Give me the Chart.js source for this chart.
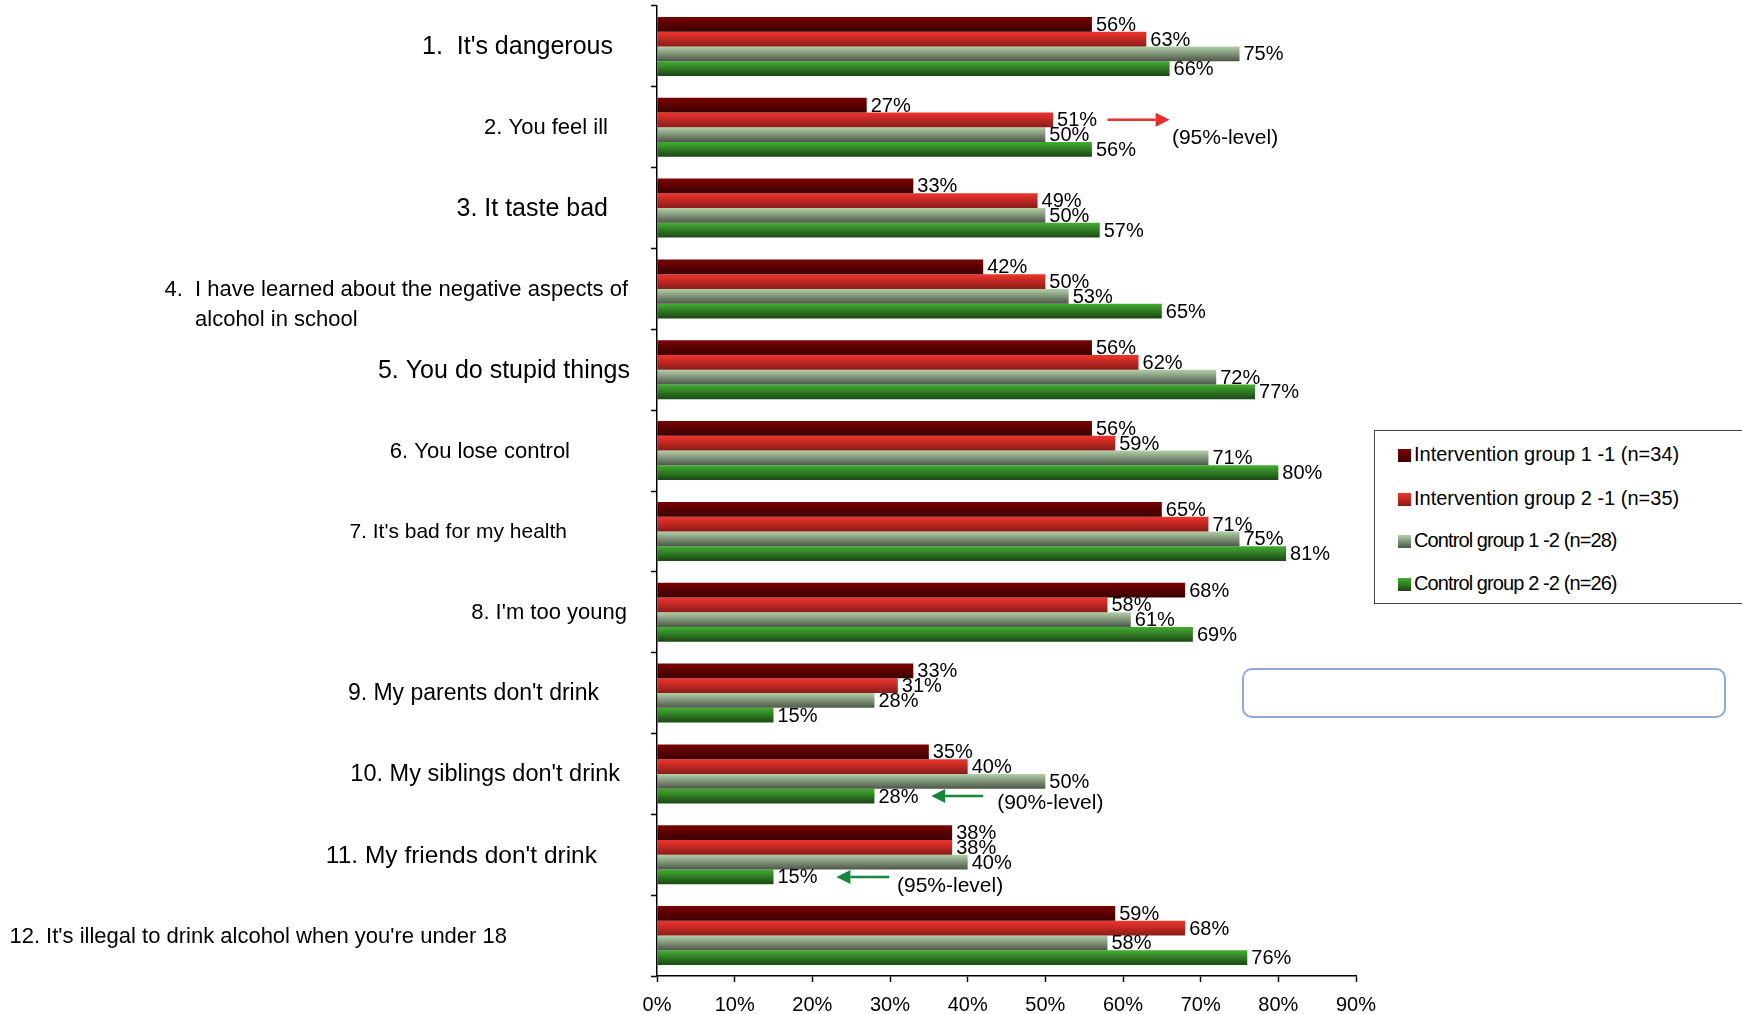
<!DOCTYPE html>
<html>
<head>
<meta charset="utf-8">
<title>Reasons not to drink alcohol</title>
<script src="https://cdn.jsdelivr.net/npm/chart.js@4.4.1/dist/chart.umd.min.js"></script>
<style>
  body { margin: 0; background: #fff; font-family: "Liberation Sans", Arial, sans-serif; }
  #wrap { position: relative; width: 1742px; height: 1014px; overflow: hidden; }
  .legend { position: absolute; left: 1374px; top: 430px; width: 400px; height: 174px;
    border: 1px solid #444; box-sizing: border-box; background: #fff; }
  .legend div { position: absolute; left: 23px; font-size: 20px; color: #000; white-space: nowrap;
    line-height: 20px; }
  .legend span { display: inline-block; width: 13px; height: 13px; margin-right: 3px; vertical-align: -1px; }
  .legend .narrow { letter-spacing: -0.9px; }
  .note { position: absolute; left: 1242px; top: 668px; width: 484px; height: 50px;
    border: 2px solid #8eaadb; border-radius: 10px; box-sizing: border-box; }
</style>
</head>
<body>
<div id="wrap">
  <canvas id="reasonsChart"></canvas>
  <div class="legend" id="legend"></div>
  <div class="note"></div>
</div>
<script>
// categories (y axis)
const reasons = [
  "1.  It's dangerous",
  "2. You feel ill",
  "3. It taste bad",
  ["4.  ", "I have learned about the negative aspects of", "alcohol in school"],
  "5. You do stupid things",
  "6. You lose control",
  "7. It's bad for my health",
  "8. I'm too young",
  "9. My parents don't drink",
  "10. My siblings don't drink",
  "11. My friends don't drink",
  "12. It's illegal to drink alcohol when you're under 18"
];

// series, percent
const intervention1 = [56, 27, 33, 42, 56, 56, 65, 68, 33, 35, 38, 59];
const intervention2 = [63, 51, 49, 50, 62, 59, 71, 58, 31, 40, 38, 68];
const control1 = [75, 50, 50, 53, 72, 71, 75, 61, 28, 50, 40, 58];
const control2 = [66, 56, 57, 65, 77, 80, 81, 69, 15, 28, 15, 76];

const seriesNames = [
  "Intervention group 1 -1 (n=34)",
  "Intervention group 2 -1 (n=35)",
  "Control group 1 -2 (n=28)",
  "Control group 2 -2 (n=26)"
];

// x axis
const xTicksMax = 90;
const xStep = 10;

// significance notes
const notes = [
  { cat: 1, ds: 1, from: 58, to: 66, text: "(95%-level)", color: "#e8302a", textAt: 66.3, dy: 1.25 },
  { cat: 9, ds: 3, from: 42, to: 35.3, text: "(90%-level)", color: "#15873a", textAt: 43.8, dy: 0.5 },
  { cat: 10, ds: 3, from: 29.9, to: 23.1, text: "(95%-level)", color: "#15873a", textAt: 30.9, dy: 0.6 }
];

// y label layout as in the original: right edge (px) and font size
const labelEnds = [613, 608, 608, 628, 630, 570, 567, 627, 599, 620, 597, 507];
const labelSizes = [25, 22, 25, 22, 25, 22, 21, 22, 23, 23.5, 24.5, 22];

const barColors = [
  ["#7a0202", "#3a0000"],
  ["#f0342c", "#8a1c18"],
  ["#b2d0a8", "#4c5648"],
  ["#42ae30", "#1c4616"]
];

const catPct = 0.73;

function barGradient(i) {
  return function (context) {
    const chart = context.chart;
    const y = chart.scales.y;
    if (!y || context.type !== "data" || !chart.chartArea) return barColors[i][0];
    const band = y.height / reasons.length;
    const h = (band * catPct) / 4;
    const center = y.getPixelForValue(context.dataIndex);
    const top = center - 2 * h + i * h;
    const g = chart.ctx.createLinearGradient(0, top, 0, top + h);
    g.addColorStop(0, barColors[i][0]);
    g.addColorStop(1, barColors[i][1]);
    return g;
  };
}

const family = '"Liberation Sans", Arial, sans-serif';

const drawExtras = {
  id: "drawExtras",
  afterDatasetsDraw(chart) {
    const ctx = chart.ctx;
    const y = chart.scales.y;
    const x = chart.scales.x;
    ctx.save();
    ctx.fillStyle = "#000";

    // value labels
    ctx.font = "20px " + family;
    ctx.textAlign = "left";
    ctx.textBaseline = "middle";
    chart.data.datasets.forEach(function (ds, di) {
      chart.getDatasetMeta(di).data.forEach(function (bar, i) {
        ctx.fillText(ds.data[i] + "%", bar.x + 4, bar.y + 1);
      });
    });

    // category labels
    reasons.forEach(function (lab, i) {
      ctx.font = labelSizes[i] + "px " + family;
      const cy = y.getPixelForValue(i);
      const right = labelEnds[i];
      if (Array.isArray(lab)) {
        const w = ctx.measureText(lab[0] + lab[1]).width;
        const start = right - w;
        const indent = ctx.measureText(lab[0]).width;
        ctx.textAlign = "left";
        ctx.fillText(lab[0] + lab[1], start, cy + 1);
        ctx.fillText(lab[2], start + indent, cy + 31);
      } else {
        ctx.textAlign = "right";
        ctx.fillText(lab, right, cy + 1);
      }
    });

    // significance arrows
    const band = y.height / reasons.length;
    const h = (band * catPct) / 4;
    ctx.font = "21px " + family;
    ctx.textAlign = "left";
    notes.forEach(function (n) {
      const cy = y.getPixelForValue(n.cat) - 2 * h + (n.ds + 0.5) * h;
      const x0 = x.getPixelForValue(n.from);
      const x1 = x.getPixelForValue(n.to);
      const dir = x1 > x0 ? 1 : -1;
      const head = 14;
      ctx.strokeStyle = n.color;
      ctx.fillStyle = n.color;
      ctx.lineWidth = 2.5;
      ctx.beginPath();
      ctx.moveTo(x0, cy);
      ctx.lineTo(x1 - dir * head, cy);
      ctx.stroke();
      ctx.beginPath();
      ctx.moveTo(x1, cy);
      ctx.lineTo(x1 - dir * head, cy - 7);
      ctx.lineTo(x1 - dir * head, cy + 7);
      ctx.closePath();
      ctx.fill();
      ctx.fillStyle = "#000";
      ctx.fillText(n.text, x.getPixelForValue(n.textAt), cy + n.dy * h);
    });
    ctx.restore();
  }
};

const seriesData = [intervention1, intervention2, control1, control2];

const reasonsChart = new Chart(document.getElementById("reasonsChart"), {
  type: "bar",
  data: {
    labels: reasons,
    datasets: seriesData.map(function (d, i) {
      return {
        label: seriesNames[i],
        data: d,
        backgroundColor: barGradient(i),
        borderWidth: 0,
        categoryPercentage: catPct,
        barPercentage: 1
      };
    })
  },
  options: {
    indexAxis: "y",
    responsive: true,
    maintainAspectRatio: false,
    animation: false,
    layout: { padding: { top: 6, right: 386, bottom: 0, left: 0 } },
    scales: {
      x: {
        min: 0,
        max: xTicksMax,
        afterFit: function (s) { s.height = 38; },
        border: { color: "#000", width: 1.5 },
        grid: { drawOnChartArea: false, color: "#000", tickLength: 6, tickWidth: 1.5 },
        ticks: {
          stepSize: xStep,
          padding: 11,
          color: "#000",
          font: { family: family, size: 20 },
          callback: function (v) { return v + "%"; }
        }
      },
      y: {
        afterFit: function (s) { s.width = 657; },
        border: { color: "#000", width: 1.5 },
        grid: { drawOnChartArea: false, color: "#000", tickLength: 6, tickWidth: 1.5, offset: true },
        ticks: { display: false }
      }
    },
    plugins: {
      legend: { display: false },
      tooltip: { enabled: false }
    }
  },
  plugins: [drawExtras]
});

// legend box
const legendEl = document.getElementById("legend");
const legendTops = [13, 57, 99, 142];
seriesNames.forEach(function (name, i) {
  const item = document.createElement("div");
  item.style.top = legendTops[i] + "px";
  if (i > 1) item.className = "narrow";
  const sw = document.createElement("span");
  sw.style.background = "linear-gradient(" + barColors[i][0] + "," + barColors[i][1] + ")";
  item.appendChild(sw);
  item.appendChild(document.createTextNode(name));
  legendEl.appendChild(item);
});
</script>
</body>
</html>
